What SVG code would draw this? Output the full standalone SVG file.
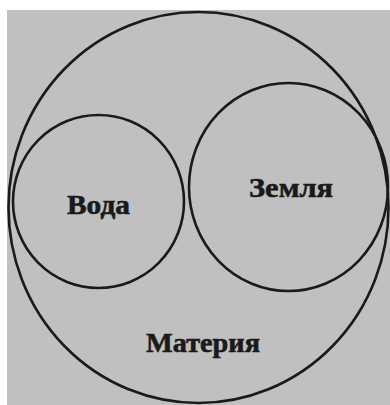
<svg xmlns="http://www.w3.org/2000/svg" width="390" height="405" viewBox="0 0 390 405">
<style>
.c{fill:none;stroke:#1a1a1a;stroke-width:2.6}
.t{font-family:"Liberation Serif","DejaVu Serif",serif;font-weight:bold;font-size:28px;fill:#1a1a1a;stroke:#1a1a1a;stroke-width:0.6}
</style>
<rect x="0" y="0" width="390" height="405" fill="#ffffff"/>
<rect x="7" y="10" width="383" height="395" fill="#c0c0c0"/>
<g id="materia">
<ellipse class="c" cx="198.5" cy="207.5" rx="190" ry="195.5"/>
<text class="t" x="146" y="352" textLength="114" lengthAdjust="spacingAndGlyphs">Материя</text>
</g>
<g id="voda">
<ellipse class="c" cx="98.5" cy="201.5" rx="85.5" ry="86.5"/>
<text class="t" x="67" y="214" textLength="63" lengthAdjust="spacingAndGlyphs">Вода</text>
</g>
<g id="zemlya">
<ellipse class="c" cx="288.5" cy="187" rx="99.5" ry="104"/>
<text class="t" x="249" y="197" textLength="84" lengthAdjust="spacingAndGlyphs">Земля</text>
</g>
<g id="connectors"/>
</svg>
